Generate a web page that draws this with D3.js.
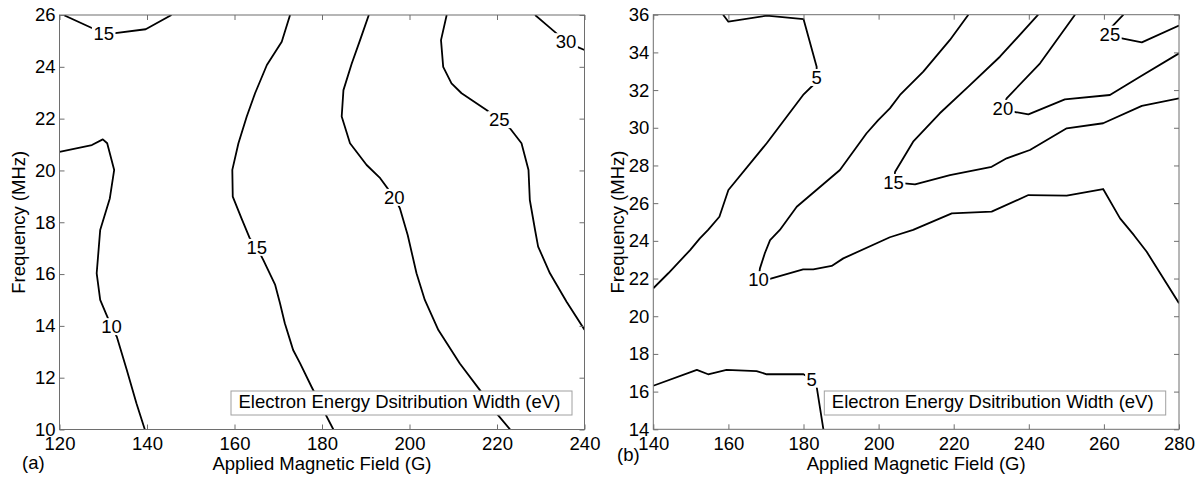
<!DOCTYPE html>
<html>
<head>
<meta charset="utf-8">
<script src="https://cdn.jsdelivr.net/npm/d3@7"></script>
<style>
  html, body { margin: 0; padding: 0; background: #fff; }
  svg { display: block; font-family: "Liberation Sans", Arial, Helvetica, sans-serif; }
</style>
</head>
<body>
<svg id="chart" width="1200" height="478"></svg>
<script>
// ---- Panel (a): field 120-240 G, frequency 10-26 MHz ----
const xTicksA = [120, 140, 160, 180, 200, 220, 240];
const yTicksA = [10, 12, 14, 16, 18, 20, 22, 24, 26];

// contour lines as [field (G), frequency (MHz)]
const a10 = [[120,20.72],[127.4,20.98],[129.9,21.2],[130.9,21.05],[132.5,20.02],[131.5,18.92],[129.3,17.7],[128.5,16.03],[129.3,15.0],[130.6,14.48],[131.9,13.97],[133.1,13.58],[135.4,12.29],[137.6,11.0],[139.5,10]];
const a15top = [[120.9,26],[127.4,25.5],[130.1,25.31],[132.3,25.29],[139.7,25.45],[145.6,26]];
const a15 = [[172.7,26],[170.8,24.97],[167.4,24.07],[164.7,22.98],[162.8,22.08],[160.9,21.05],[159.5,20.02],[159.6,18.99],[161.6,18.15],[163.5,17.38],[165.1,17.03],[166.6,16.54],[169.3,15.58],[170.4,14.87],[171.5,14.1],[172.7,13.45],[173.4,13.07],[175.0,12.55],[177.6,11.65],[179.9,10.88],[182.6,10]];
const a20 = [[190.7,26],[188.7,25.03],[186.8,24.13],[184.9,23.1],[184.5,22.08],[186.4,21.05],[190.2,20.21],[193.3,19.7],[196.5,18.96],[197.8,18.54],[199.6,17.5],[201.6,16.03],[203.5,15.0],[206.6,13.84],[211.5,12.55],[216.1,11.52],[219.9,10.62],[223.0,10]];
const a25 = [[208.5,26],[207.2,25.03],[207.7,24.0],[209.6,23.36],[211.9,22.98],[217.6,22.33],[220.5,21.96],[223.0,21.62],[225.6,21.05],[227.2,20.02],[227.5,18.86],[228.7,17.7],[229.4,17.06],[232.1,16.03],[235.9,14.93],[240,13.85]];
const a30 = [[228.7,26],[231.4,25.61],[235.8,24.97],[238.2,24.78],[240,24.65]];

// level, line, label anchor
const levelsA = [10, 15, 15, 20, 25, 30];
const linesA = [a10, a15top, a15, a20, a25, a30];
const labelAtA = [[131.9,13.97],[130.1,25.31],[165.1,17.03],[196.5,18.96],[220.5,21.96],[235.8,24.97]];

// ---- Panel (b): field 140-280 G, frequency 14-36 MHz ----
const xTicksB = [140, 160, 180, 200, 220, 240, 260, 280];
const yTicksB = [14, 16, 18, 20, 22, 24, 26, 28, 30, 32, 34, 36];

const b5upper = [[158.6,36],[160.0,35.63],[170.2,35.95],[180.0,35.77],[183.5,33.24],[183.5,32.67],[182.6,32.27],[179.9,31.74],[170.2,29.18],[160.0,26.7],[157.6,25.28],[154.6,24.58],[152.4,24.13],[149.8,23.51],[144.0,22.28],[140,21.48]];
const b5lower = [[140,16.31],[151.6,17.15],[154.6,16.92],[159.5,17.15],[167.5,17.09],[170.2,16.92],[180.0,16.92],[182.2,16.66],[183.5,16.26],[185.3,14]];
const b10 = [[223.9,36],[219.0,34.66],[211.9,32.98],[205.7,31.74],[203.0,31.03],[199.9,30.41],[196.8,29.71],[189.7,27.76],[178.2,25.81],[173.7,24.58],[171.1,24.04],[169.7,23.34],[168.4,22.54],[168.0,21.94],[170.6,21.96],[179.9,22.49],[182.6,22.49],[187.5,22.67],[190.6,23.07],[203.0,24.19],[209.2,24.58],[219.5,25.46],[230.1,25.55],[239.9,26.43],[250.1,26.40],[259.8,26.75],[264.3,25.19],[268.0,24.3],[271.4,23.42],[280,20.69]];
const b15 = [[242.5,36],[232.3,33.77],[223.9,32.18],[216.3,30.77],[209.2,29.26],[204.4,27.67],[204.0,27.10],[209.7,27.0],[219.0,27.49],[230.1,27.93],[234.1,28.38],[240.3,28.82],[250.1,29.97],[259.8,30.24],[270.1,31.16],[280,31.56]];
const b20 = [[252.3,36],[243.0,33.42],[234.1,31.56],[233.1,31.03],[235.9,30.85],[239.9,30.71],[249.6,31.51],[261.6,31.74],[269.6,32.71],[280,33.95]];
const b25 = [[265.2,36],[262.1,35.36],[261.6,34.97],[263.8,34.78],[270.1,34.53],[280,35.42]];

const levelsB = [5, 5, 10, 15, 20, 25];
const linesB = [b5upper, b5lower, b10, b15, b20, b25];
const labelAtB = [[183.5,32.67],[182.2,16.66],[168.0,21.94],[204.0,27.10],[233.1,31.03],[261.6,34.97]];

const xTitle = "Applied Magnetic Field (G)";
const yTitle = "Frequency (MHz)";
const boxTitle = "Electron Energy Dsitribution Width (eV)";

const svg = d3.select("#chart");
const FONT = 18.5;
const frameColor = "#6e6e6e";

function drawPanel(p) {
  const x = d3.scaleLinear().domain(p.xDomain).range([p.left, p.right]);
  const y = d3.scaleLinear().domain(p.yDomain).range([p.bottom, p.top]);
  const g = svg.append("g");

  const clipId = "clip-" + p.id;
  g.append("clipPath").attr("id", clipId)
    .append("rect")
    .attr("x", p.left).attr("y", p.top)
    .attr("width", p.right - p.left).attr("height", p.bottom - p.top);

  // contour lines
  const line = d3.line().x(d => x(d[0])).y(d => y(d[1]));
  const plot = g.append("g").attr("clip-path", `url(#${clipId})`);
  plot.selectAll("path.contour")
    .data(p.lines)
    .join("path")
    .attr("class", "contour")
    .attr("d", line)
    .attr("fill", "none")
    .attr("stroke", "#000")
    .attr("stroke-width", 1.8)
    .attr("stroke-linejoin", "round");

  // inline level labels with a white gap under the text
  p.labelAt.forEach((pt, i) => {
    const lg = plot.append("g");
    const t = lg.append("text")
      .attr("x", x(pt[0])).attr("y", y(pt[1]))
      .attr("dy", "0.36em")
      .attr("text-anchor", "middle")
      .attr("font-size", FONT)
      .attr("fill", "#000")
      .text(String(p.levels[i]));
    const bb = t.node().getBBox();
    lg.insert("rect", "text")
      .attr("x", bb.x - 1.5).attr("y", y(pt[1]) - 8.5)
      .attr("width", bb.width + 3).attr("height", 17)
      .attr("fill", "#fff");
  });

  // axes with inward ticks on all four sides
  const ax = g.append("g").attr("font-size", FONT);
  const bottom = ax.append("g").attr("transform", `translate(0,${p.bottom})`)
    .call(d3.axisBottom(x).tickValues(p.xTicks).tickSizeInner(-5).tickSizeOuter(0).tickPadding(7.4));
  const left = ax.append("g").attr("transform", `translate(${p.left},0)`)
    .call(d3.axisLeft(y).tickValues(p.yTicks).tickSizeInner(-5).tickSizeOuter(0).tickPadding(4));
  const top = ax.append("g").attr("transform", `translate(0,${p.top})`)
    .call(d3.axisTop(x).tickValues(p.xTicks).tickSizeInner(-5).tickSizeOuter(0).tickFormat(""));
  const right = ax.append("g").attr("transform", `translate(${p.right},0)`)
    .call(d3.axisRight(y).tickValues(p.yTicks).tickSizeInner(-5).tickSizeOuter(0).tickFormat(""));
  [bottom, left, top, right].forEach(a => {
    a.attr("font-family", null).attr("font-size", FONT);
    a.select(".domain").remove();
    a.selectAll(".tick line").attr("stroke", frameColor);
    a.selectAll(".tick text").attr("fill", "#000");
  });

  g.append("rect")
    .attr("x", p.left).attr("y", p.top)
    .attr("width", p.right - p.left).attr("height", p.bottom - p.top)
    .attr("fill", "none").attr("stroke", frameColor).attr("stroke-width", 1);

  // in-plot caption box
  g.append("rect")
    .attr("x", p.box[0]).attr("y", p.box[1])
    .attr("width", p.box[2]).attr("height", p.box[3])
    .attr("fill", "#fff").attr("stroke", "#a0a0a0").attr("stroke-width", 1);
  g.append("text")
    .attr("x", p.box[0] + 7.5).attr("y", p.box[1] + 17)
    .attr("font-size", FONT).attr("fill", "#000")
    .text(boxTitle);

  // axis titles
  g.append("text")
    .attr("x", (p.left + p.right) / 2).attr("y", 470)
    .attr("text-anchor", "middle").attr("font-size", FONT)
    .text(xTitle);
  g.append("text")
    .attr("transform", `translate(${p.yTitleX},${(p.top + p.bottom) / 2}) rotate(-90)`)
    .attr("text-anchor", "middle").attr("font-size", FONT)
    .text(yTitle);

  // panel tag
  g.append("text")
    .attr("x", p.tag[0]).attr("y", p.tag[1])
    .attr("font-size", FONT)
    .text(p.tagText);
}

drawPanel({
  id: "a", xDomain: [120, 240], yDomain: [10, 26],
  left: 59.5, right: 584.5, top: 15, bottom: 429.5,
  xTicks: xTicksA, yTicks: yTicksA,
  lines: linesA, levels: levelsA, labelAt: labelAtA,
  box: [231, 391, 341, 24], yTitleX: 25, tag: [22, 469], tagText: "(a)"
});

drawPanel({
  id: "b", xDomain: [140, 280], yDomain: [14, 36],
  left: 653.3, right: 1179, top: 14.7, bottom: 429.3,
  xTicks: xTicksB, yTicks: yTicksB,
  lines: linesB, levels: levelsB, labelAt: labelAtB,
  box: [824.3, 391, 341.4, 24], yTitleX: 624, tag: [617, 461], tagText: "(b)"
});
</script>
</body>
</html>
